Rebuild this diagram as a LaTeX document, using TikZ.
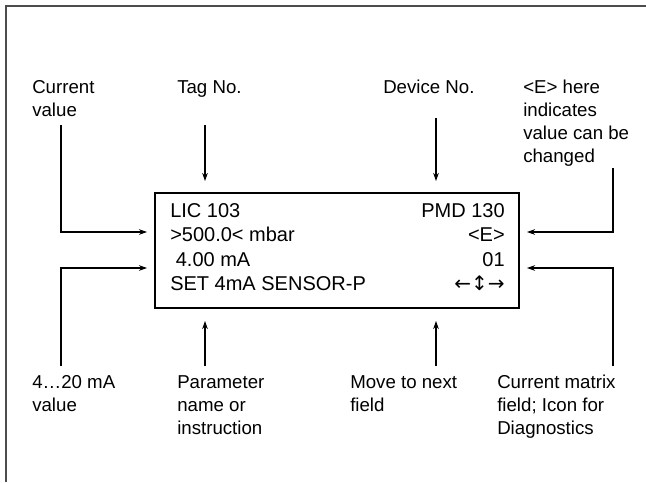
\documentclass[tikz,border=0pt]{standalone}
\usepackage{fontspec}
\setmainfont{Liberation Sans}
\newfontfamily\symfont{DejaVu Sans}
\usetikzlibrary{arrows.meta}
\begin{document}
\begin{tikzpicture}[x=0.75pt,y=-0.75pt,
  lab/.style={anchor=base west, font=\fontsize{14}{17.25}\selectfont, align=left, inner sep=0pt},
  lcd/.style={anchor=base west, font=\fontsize{15}{18}\selectfont, inner sep=0pt},
  lcdr/.style={anchor=base east, font=\fontsize{15}{18}\selectfont, inner sep=0pt},
  conn/.style={line width=0.85pt, -{Stealth[length=6pt,width=4.2pt]}},
  frame/.style={line width=1pt, draw=black!70}]
\useasboundingbox (0,0) rectangle (646,482);
% frame
\coordinate (f1) at (6,482);
\coordinate (f2) at (6,6);
\coordinate (f3) at (646,6);
\draw[frame] (f1) -- (f2) -- (f3);
% display
\coordinate (btl) at (155,193);
\coordinate (bbr) at (519,308);
\draw[line width=0.9pt] (btl) rectangle (bbr);
\node[lcd] (r1l) at (170,217) {LIC 103};
\node[lcd] (r2l) at (170,241) {>500.0< mbar};
\node[lcd] (r3l) at (170,266) {\ 4.00 mA};
\node[lcd] (r4l) at (170,290) {SET 4mA SENSOR-P};
\node[lcdr] (r1r) at (505,217) {PMD 130};
\node[lcdr] (r2r) at (505,241) {<E>};
\node[lcdr] (r3r) at (505,266) {01};
\node[lcdr] (r4r) at (505,290) {{\symfont\fontsize{15}{18}\selectfont ←↕→}};
% labels top (anchor = baseline of last line)
\node[lab] (cv) at (32,116) {Current\\value};
\node[lab] (tag) at (177,93) {Tag No.};
\node[lab] (dev) at (383,93) {Device No.};
\node[lab] (ehere) at (523,162) {<E> here\\indicates\\value can be\\changed};
% labels bottom
\node[lab] (ma) at (32,411) {4\ldots20 mA\\value};
\node[lab] (par) at (177,434) {Parameter\\name or\\instruction};
\node[lab] (mov) at (350,411) {Move to next\\field};
\node[lab] (cmf) at (497,434) {Current matrix\\field; Icon for\\Diagnostics};
% connector coordinates
\coordinate (cvs) at (61,125); \coordinate (cvc) at (61,232); \coordinate (cve) at (147,232);
\coordinate (mas) at (61,366); \coordinate (mac) at (61,268); \coordinate (mae) at (147,268);
\coordinate (tags) at (205,125); \coordinate (tage) at (205,181);
\coordinate (devs) at (436,118); \coordinate (deve) at (436,181);
\coordinate (es) at (613,168); \coordinate (ec) at (613,232); \coordinate (ee) at (527,232);
\coordinate (cms) at (613,366); \coordinate (cmc) at (613,268); \coordinate (cme) at (527,268);
\coordinate (pars) at (205,366); \coordinate (pare) at (205,321);
\coordinate (movs) at (436,366); \coordinate (move) at (436,321);
\draw[conn] (cvs) -- (cvc) -- (cve);
\draw[conn] (mas) -- (mac) -- (mae);
\draw[conn] (tags) -- (tage);
\draw[conn] (devs) -- (deve);
\draw[conn] (es) -- (ec) -- (ee);
\draw[conn] (cms) -- (cmc) -- (cme);
\draw[conn] (pars) -- (pare);
\draw[conn] (movs) -- (move);
\end{tikzpicture}
\end{document}
